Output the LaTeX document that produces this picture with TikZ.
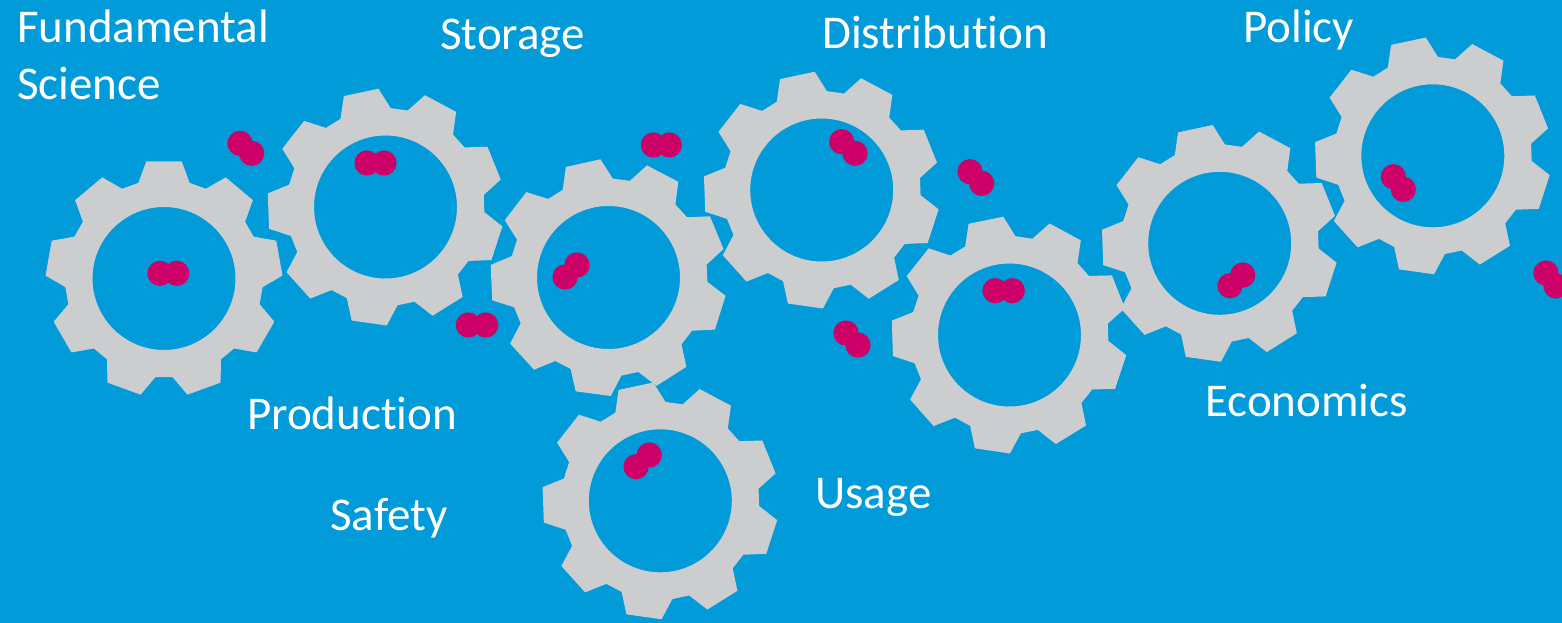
\documentclass[tikz,border=0pt]{standalone}
\usepackage{fontspec}
\setmainfont{Carlito}[Ligatures=NoCommon]
\definecolor{sky}{RGB}{0,155,216}
\definecolor{steel}{RGB}{204,205,207}
\definecolor{berry}{RGB}{204,0,102}

% A nine-toothed cog centred at (#1,#2); #3 is the direction of one tooth (degrees, counter-clockwise)
\newcommand\cog[3]{%
  \begin{scope}[shift={(#1,#2)}]
    \fill[cogbody] ({-#3-15}:99)
      \foreach \k in {0,...,8}{
        -- ({-#3+40*\k-15}:99) -- ({-#3+40*\k-8.6}:118.5)
        -- ({-#3+40*\k+8.6}:118.5) -- ({-#3+40*\k+15}:99)
      } -- cycle
      (0,0) circle[radius=71.5pt];
  \end{scope}}

% A two-atom molecule
\newcommand\molecule[4]{%
  \fill[atom] (#1,#2) circle[radius=12.6pt] (#3,#4) circle[radius=12.6pt];}

\begin{document}
\begin{tikzpicture}[x=1pt,y=-1pt,
  cogbody/.style={fill=steel, even odd rule},
  atom/.style={fill=berry},
  caption/.style={text=white, font=\fontsize{47}{57}\selectfont,
                  anchor=base west, inner sep=0pt}]
\fill[sky] (0,0) rectangle (1562,623);
\useasboundingbox (0,0) rectangle (1562,623);

% cogs
\cog{164}{278.5}{90}
\cog{385.5}{207}{102}
\cog{608.5}{277.5}{102.5}
\cog{821.7}{190}{102}
\cog{1009.5}{335}{101.6}
\cog{1219.7}{243.3}{102}
\cog{1432.8}{155.8}{102}
\cog{660.3}{500.8}{102}

% molecules inside the cogs
\molecule{160}{273.3}{176.7}{273.3}
\molecule{367}{163}{384}{163}
\molecule{565}{277}{577}{265}
\molecule{841.7}{141.7}{855}{153.3}
\molecule{995}{290.7}{1012.3}{290.7}
\molecule{1230}{285.7}{1242.7}{275}
\molecule{1393.3}{176.7}{1403.3}{189.3}
\molecule{636}{466.7}{649.3}{455}

% loose molecules
\molecule{240}{143.3}{251.7}{153.3}
\molecule{653.3}{145}{669.3}{145}
\molecule{468.3}{325}{485.7}{325}
\molecule{970}{171.7}{981.7}{183.3}
\molecule{846}{333}{858}{345}
\molecule{1546}{273}{1556}{286}

% captions
\node[caption] (fund) at (17,43) {Fundamental};
\node[caption] (sci) at (17,100) {Science};
\node[caption] (stor) at (440,50) {Storage};
\node[caption] (dist) at (822,49) {Distribution};
\node[caption] (pol) at (1243,43) {Policy};
\node[caption] (prod) at (247,429) {Production};
\node[caption] (safe) at (330,530) {Safety};
\node[caption] (use) at (815,508) {Usage};
\node[caption] (econ) at (1205,416) {Economics};
\end{tikzpicture}
\end{document}
